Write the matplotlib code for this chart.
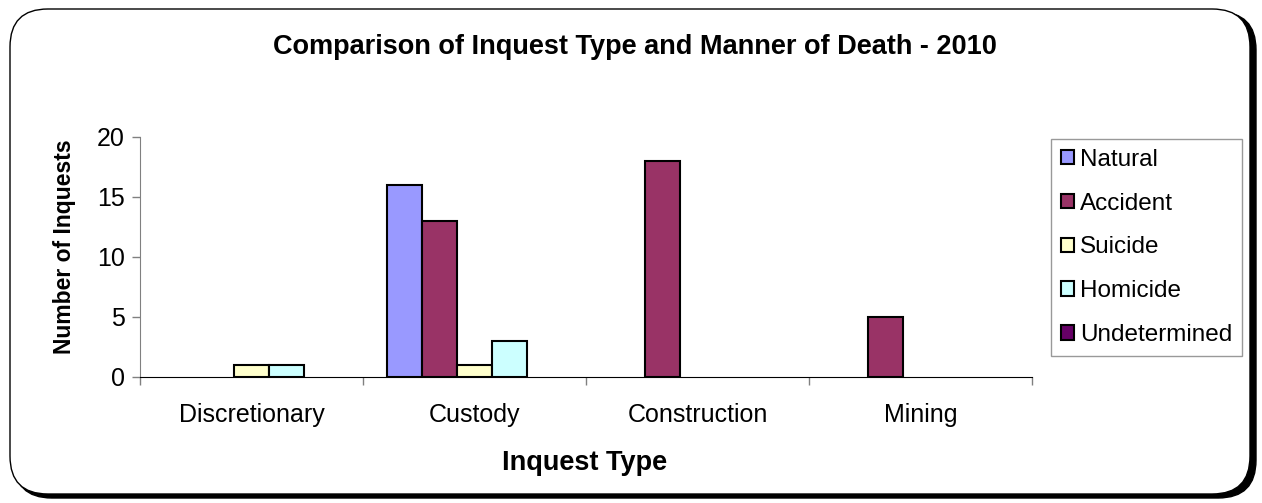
import matplotlib

matplotlib.use("Agg")
import matplotlib.pyplot as plt
from matplotlib.patches import FancyBboxPatch, Patch
from matplotlib.ticker import FixedLocator

plt.rcParams["font.family"] = ["Liberation Sans", "DejaVu Sans"]

# %% data
categories = ["Discretionary", "Custody", "Construction", "Mining"]
series = ["Natural", "Accident", "Suicide", "Homicide", "Undetermined"]
natural = [0, 16, 0, 0]
accident = [0, 13, 18, 5]
suicide = [1, 1, 0, 0]
homicide = [1, 3, 0, 0]
undetermined = [0, 0, 0, 0]
values = [natural, accident, suicide, homicide, undetermined]
colors = ["#9999FF", "#993366", "#FFFFCC", "#CCFFFF", "#660066"]
yticks = [0, 5, 10, 15, 20]

# %% figure
W, H = 1262, 503
fig = plt.figure(figsize=(W / 100, H / 100), dpi=100)

# rounded frame with shadow
shadow = FancyBboxPatch((14 / W, 5 / H), 1242 / W, 486 / H,
                        boxstyle="round,pad=0,rounding_size=0.03",
                        transform=fig.transFigure, facecolor="black",
                        edgecolor="black", mutation_aspect=W / H, zorder=0)
frame = FancyBboxPatch((10 / W, 9 / H), 1240 / W, 485 / H,
                       boxstyle="round,pad=0,rounding_size=0.03",
                       transform=fig.transFigure, facecolor="white",
                       edgecolor="black", linewidth=1.0, mutation_aspect=W / H, zorder=1)
fig.patches.extend([shadow, frame])

ax = fig.add_axes([140 / W, 1 - 377 / H, (1032 - 140) / W, (377 - 137) / H])
ax.set_facecolor("none")
ax.set_zorder(2)

w = 35 / 222.5
x = range(len(categories))
for i, (name, vals, c) in enumerate(zip(series, values, colors)):
    edges = ["black" if v else "none" for v in vals]
    ax.bar([k + (i - 2) * w for k in x], vals, width=w, color=c,
           edgecolor=edges, linewidth=1.5, label=name, zorder=3)

ax.set_xlim(-0.5, len(categories) - 0.5)
ax.set_ylim(0, 20)
ax.set_yticks(yticks)
ax.tick_params(axis="y", labelsize=18, length=6, width=1, pad=5, color="#808080")
ax.xaxis.set_major_locator(FixedLocator([k - 0.5 for k in range(len(categories) + 1)]))
ax.xaxis.set_minor_locator(FixedLocator(list(x)))
ax.xaxis.set_major_formatter(plt.NullFormatter())
ax.set_xticks(list(x), categories, minor=True)
ax.tick_params(axis="x", which="major", length=6, width=1, color="#808080")
ax.tick_params(axis="x", which="minor", length=0, labelsize=18, pad=19)

for s in ["top", "right"]:
    ax.spines[s].set_visible(False)
ax.spines["left"].set_color("#808080")
ax.spines["bottom"].set_color("black")

fig.text(635 / W, 1 - 47 / H,
         "Comparison of Inquest Type and Manner of Death - 2010",
         ha="center", va="center", fontsize=19.5, fontweight="bold", zorder=5)
fig.text(585 / W, 1 - 463 / H, "Inquest Type", ha="center", va="center",
         fontsize=19.5, fontweight="bold", zorder=5)
fig.text(64 / W, 1 - 247 / H, "Number of Inquests", ha="center", va="center",
         rotation=90, fontsize=16.5, fontweight="bold", zorder=5)

handles = [Patch(facecolor=c, edgecolor="black", linewidth=1.5) for c in colors]
leg = fig.legend(handles, series, loc="upper left",
                 bbox_to_anchor=(1051 / W, 1 - 139 / H), fontsize=17.5,
                 frameon=True, fancybox=False, edgecolor="#808080",
                 handlelength=0.55, handleheight=0.55, handletextpad=0.25,
                 labelspacing=0.9, borderpad=0.4, borderaxespad=0)
leg.get_frame().set_linewidth(1.0)
leg.set_zorder(5)

fig.savefig("out.png", dpi=100)
